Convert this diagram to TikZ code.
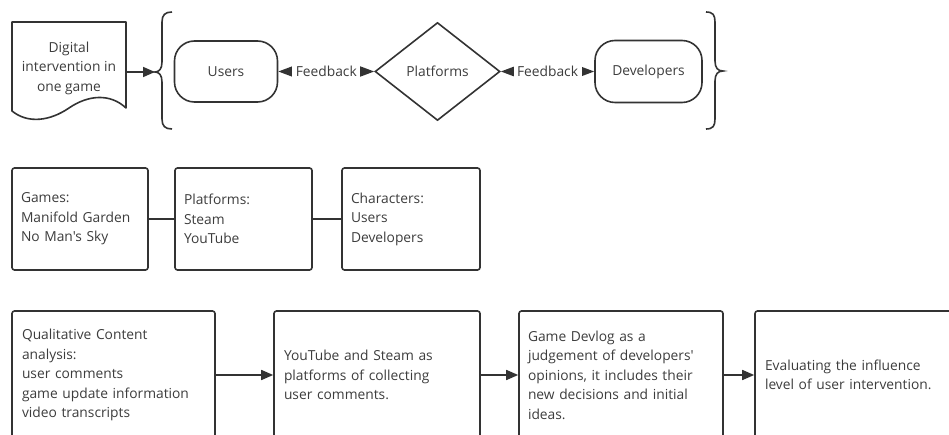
\documentclass[tikz,border=0pt]{standalone}
\usepackage{fontspec}
\newfontfamily\uifont{Open Sans}
\usetikzlibrary{shapes.geometric,arrows.meta}
\definecolor{ink}{HTML}{333333}
\definecolor{txt}{HTML}{3C3C3C}
\tikzset{
  edge/.style={draw=ink, line width=1.6pt},
  tip/.style={edge, -{Triangle[length=12pt,width=10pt]}},
  bitip/.style={edge, {Triangle[length=14pt,width=10pt]}-{Triangle[length=14pt,width=10pt]}},
  lbl/.style={text=txt, font=\uifont\fontsize{13.8}{19.5}\selectfont},
  terminal/.style={lbl, edge, rectangle, rounded corners=20pt, inner sep=0pt},
  decision/.style={lbl, edge, diamond, inner sep=0pt},
  infobox/.style={lbl, edge, rectangle, rounded corners=2.5pt, inner sep=0pt, align=left},
  fb/.style={lbl, fill=white, inner ysep=0pt, inner xsep=3.5pt}
}
\begin{document}
\begin{tikzpicture}[x=1pt, y=-1pt]
\clip (0,0) rectangle (949,435);

% document shape
\draw[edge, line join=round] (12,22) -- (126,22) -- (126,108)
  .. controls (110,93) and (88,95) .. (69,108)
  .. controls (50,121) and (28,124) .. (12,111) -- cycle;
\node[lbl, align=center] (doc) at (69,68) {Digital\\intervention in\\one game};
\coordinate (docout) at (126,72);

% braces
\draw[edge] (172,12) .. controls (165,12) and (162,15) .. (162,22) -- (162,62)
  .. controls (162,69) and (159,72) .. (155,72)
  .. controls (159,72) and (162,75) .. (162,82) -- (162,119)
  .. controls (162,126) and (165,129) .. (172,129);
\coordinate (lbrace) at (155,72);
\draw[edge] (706,12) .. controls (713,12) and (715,15) .. (715,22) -- (715,61)
  .. controls (715,68) and (718,71) .. (723,71)
  .. controls (718,71) and (715,74) .. (715,81) -- (715,119)
  .. controls (715,126) and (713,129) .. (706,129);

\draw[tip] (docout) -- (lbrace);

% top row
\node[terminal, minimum width=103pt, minimum height=61pt] (users) at (226,71.5) {Users};
\node[decision, minimum width=125pt, minimum height=98pt] (plat) at (437.5,71.5) {Platforms};
\node[terminal, minimum width=107pt, minimum height=62pt] (dev) at (648.5,71.5) {Developers};

\draw[bitip] (users) -- node[fb] {Feedback} (plat);
\draw[bitip] (plat) -- node[fb] {Feedback} (dev);

% middle row
\node[infobox, minimum width=136pt, minimum height=102pt, text width=118pt] (games) at (80,219)
  {Games:\\Manifold Garden\\No Man's Sky};
\node[infobox, minimum width=137pt, minimum height=102pt, text width=119pt] (plats) at (243.5,219)
  {Platforms:\\Steam\\YouTube};
\node[infobox, minimum width=138pt, minimum height=102pt, text width=120pt] (chars) at (411,219)
  {Characters:\\Users\\Developers};
\draw[edge] (games) -- (plats);
\draw[edge] (plats) -- (chars);

% bottom row
\node[infobox, minimum width=203pt, minimum height=128pt, text width=183pt] (qca) at (113.5,375)
  {Qualitative Content\\analysis:\\user comments\\game update information\\video transcripts};
\node[infobox, minimum width=206pt, minimum height=128pt, text width=186pt] (collect) at (377,375)
  {YouTube and Steam as\\platforms of collecting\\user comments.};
\node[infobox, minimum width=204pt, minimum height=128pt, text width=186pt] (devlog) at (621,375)
  {Game Devlog as a\\judgement of developers'\\opinions, it includes their\\new decisions and initial\\ideas.};
\node[infobox, minimum width=215pt, minimum height=128pt, text width=195pt] (eval) at (862.5,375)
  {Evaluating the influence\\level of user intervention.};
\draw[tip] (qca) -- (collect);
\draw[tip] (collect) -- (devlog);
\draw[tip] (devlog) -- (eval);
\end{tikzpicture}
\end{document}
